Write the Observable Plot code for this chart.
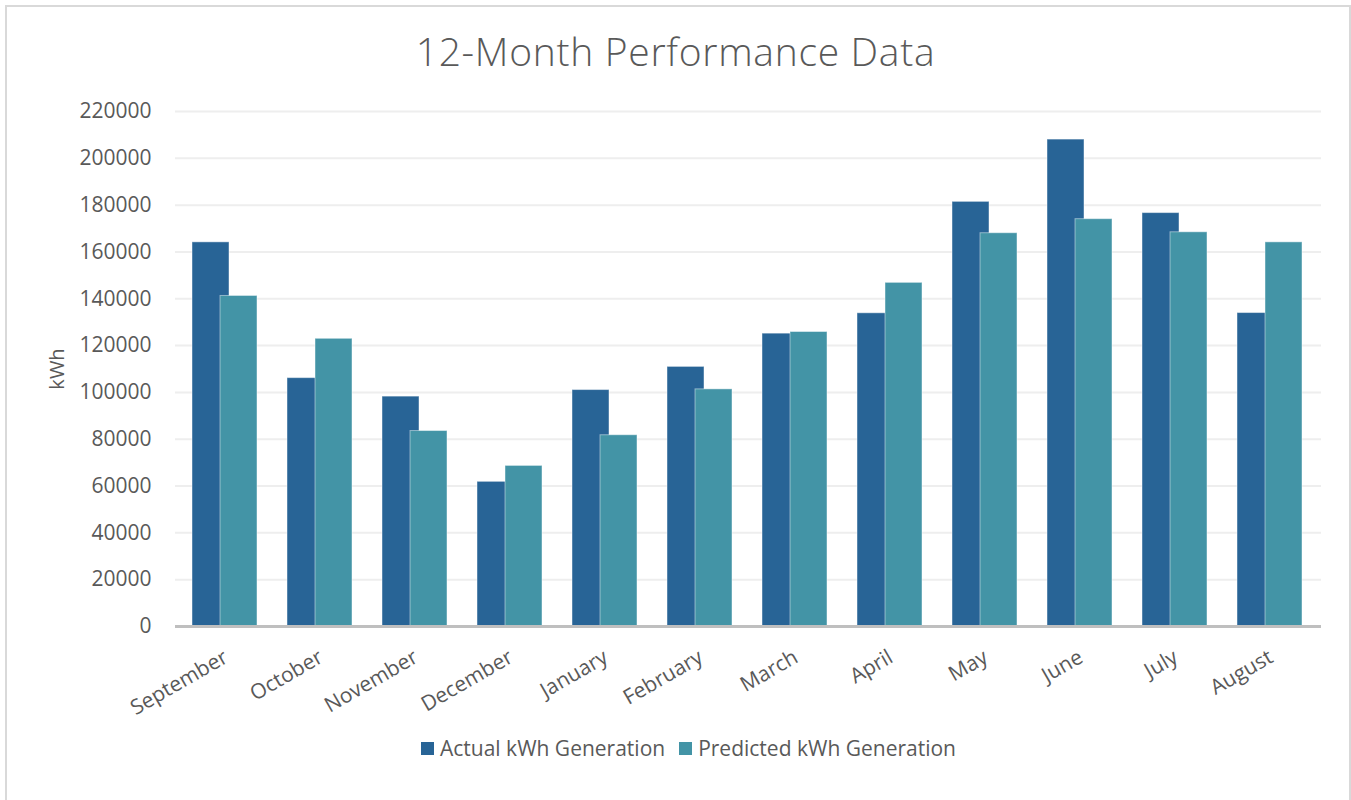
<!DOCTYPE html>
<html>
<head>
<meta charset="utf-8">
<script src="https://cdn.jsdelivr.net/npm/d3@7"></script>
<script src="https://cdn.jsdelivr.net/npm/@observablehq/plot@0.6"></script>
<style>
  html, body { margin: 0; padding: 0; background: #fff; }
  body { width: 1351px; height: 800px; overflow: hidden; position: relative; font-family: "Open Sans", sans-serif; }
  #frame { position: absolute; left: 5px; top: 5px; width: 1342px; height: 900px; border: 2px solid #d9d9d9; }
  #title { position: absolute; left: 0; width: 1351px; top: 23px; text-align: center; font-size: 39px; font-weight: 300; color: #595959; letter-spacing: 0.7px; line-height: 56px; }
  #chart { position: absolute; left: 0; top: 90px; }
  #legend { position: absolute; left: 13px; width: 1351px; top: 734px; display: flex; justify-content: center; align-items: center; font-size: 21px; color: #595959; }
  .item { display: flex; align-items: center; margin: 0 7px; }
  .sw { width: 13px; height: 13px; margin-right: 6px; }
</style>
</head>
<body>
<div id="frame"></div>
<div id="title">12-Month Performance Data</div>
<div id="chart"></div>
<div id="legend"></div>
<script>
const months = ["September","October","November","December","January","February","March","April","May","June","July","August"];
const actual = [164100, 106100, 98200, 61800, 101000, 110900, 125100, 133800, 181400, 208000, 176600, 133900];
const predicted = [141200, 122900, 83500, 68600, 81700, 101300, 125800, 146800, 168000, 174000, 168400, 164100];
const seriesNames = ["Actual kWh Generation", "Predicted kWh Generation"];
const colors = ["#286496", "#4394a6"];
const yTicks = [0, 20000, 40000, 60000, 80000, 100000, 120000, 140000, 160000, 180000, 200000, 220000];

const actualRows = months.map((m, i) => ({month: m, value: actual[i]}));
const predRows = months.map((m, i) => ({month: m, value: predicted[i]}));

const chart = Plot.plot({
  width: 1351,
  height: 630,
  marginLeft: 175,
  marginRight: 30,
  marginTop: 21,
  marginBottom: 94,
  style: {fontFamily: "Open Sans, sans-serif", background: "transparent", color: "#595959"},
  x: {domain: months, padding: 0, label: null},
  y: {domain: [0, 220000], label: null},
  marks: [
    Plot.ruleY(yTicks.slice(1), {stroke: "#eeeeee", strokeWidth: 2}),
    Plot.barY(actualRows, {x: "month", y: "value", fill: colors[0], insetLeft: 14, insetRight: 44, stroke: "#ffffff", strokeOpacity: 0.45, strokeWidth: 1}),
    Plot.barY(predRows, {x: "month", y: "value", fill: colors[1], insetLeft: 42, insetRight: 16, stroke: "#ffffff", strokeOpacity: 0.45, strokeWidth: 1}),
    Plot.ruleY([0], {stroke: "#bfbfbf", strokeWidth: 3}),
    Plot.axisY({ticks: yTicks, tickFormat: d3.format("d"), tickSize: 0, tickPadding: 24, fontSize: 21, fill: "#595959", label: null}),
    Plot.axisX({tickSize: 0, tickPadding: 29, tickRotate: -30, fontSize: 21, fill: "#595959", label: null}),
    Plot.text(["kWh"], {frameAnchor: "left", textAnchor: "middle", dx: -118, rotate: -90, fontSize: 20, fill: "#595959"})
  ]
});
document.getElementById("chart").appendChild(chart);

const legend = document.getElementById("legend");
seriesNames.forEach((name, i) => {
  const item = document.createElement("div");
  item.className = "item";
  const sw = document.createElement("div");
  sw.className = "sw";
  sw.style.background = colors[i];
  const label = document.createElement("span");
  label.textContent = name;
  item.appendChild(sw);
  item.appendChild(label);
  legend.appendChild(item);
});
</script>
</body>
</html>
